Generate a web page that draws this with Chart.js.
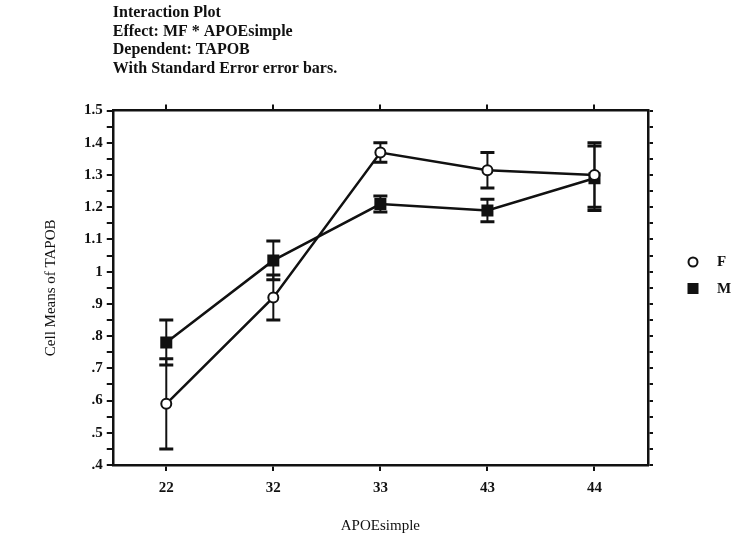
<!DOCTYPE html>
<html lang="en">
<head>
    <meta charset="UTF-8">
    <title>Interaction Plot</title>
    <script src="https://cdn.jsdelivr.net/npm/chart.js@4/dist/chart.umd.min.js"></script>
    <style>
        body {
            margin: 0;
            background-color: #ffffff;
        }
    </style>
</head>
<body>
    <canvas id="interactionChart" width="748" height="548"></canvas>

    <script>
        const categories = ['22', '32', '33', '43', '44'];
        const fMeans = [0.59, 0.92, 1.37, 1.315, 1.30];
        const fErrors = [0.14, 0.07, 0.03, 0.055, 0.10];
        const mMeans = [0.78, 1.035, 1.21, 1.19, 1.29];
        const mErrors = [0.07, 0.06, 0.025, 0.035, 0.10];
        const yMin = 0.4;
        const yMax = 1.5;
        const titleLines = [
            'Interaction Plot',
            'Effect: MF * APOEsimple',
            'Dependent: TAPOB',
            'With Standard Error error bars.'
        ];

        const serif = "'Liberation Serif', 'DejaVu Serif', serif";
        const ink = '#111111';

        // 1.5, 1.4 ... 1, .9 ... .4 ; blank label on the half steps
        function yLabel(value, index) {
            if (index % 2 === 1) return '';
            const v = Math.round(value * 10) / 10;
            if (v === 1) return '1';
            if (v < 1) return v.toFixed(1).replace(/^0/, '');
            return v.toFixed(1);
        }

        // standard error whiskers, drawn under the markers
        const errorBars = {
            id: 'errorBars',
            beforeDatasetsDraw(chart) {
                const ctx = chart.ctx;
                const x = chart.scales.x;
                const y = chart.scales.y;
                const sets = [[fMeans, fErrors], [mMeans, mErrors]];
                ctx.save();
                ctx.strokeStyle = ink;
                sets.forEach(([means, errs]) => {
                    means.forEach((m, i) => {
                        const px = x.getPixelForValue(i);
                        const top = y.getPixelForValue(m + errs[i]);
                        const bottom = y.getPixelForValue(m - errs[i]);
                        ctx.lineWidth = 2;
                        ctx.beginPath();
                        ctx.moveTo(px, top);
                        ctx.lineTo(px, bottom);
                        ctx.stroke();
                        ctx.lineWidth = 3;
                        ctx.beginPath();
                        ctx.moveTo(px - 7, top);
                        ctx.lineTo(px + 7, top);
                        ctx.moveTo(px - 7, bottom);
                        ctx.lineTo(px + 7, bottom);
                        ctx.stroke();
                    });
                });
                ctx.restore();
            }
        };

        const sideLegend = {
            id: 'sideLegend',
            afterDraw(chart) {
                const ctx = chart.ctx;
                const cx = 693;
                ctx.save();
                ctx.strokeStyle = ink;
                ctx.fillStyle = '#ffffff';
                ctx.lineWidth = 2;
                ctx.beginPath();
                ctx.arc(cx, 262, 4.5, 0, Math.PI * 2);
                ctx.fill();
                ctx.stroke();
                ctx.fillStyle = ink;
                ctx.fillRect(cx - 5.5, 283, 11, 11);
                ctx.font = 'bold 15px ' + serif;
                ctx.textBaseline = 'middle';
                ctx.fillText('F', cx + 24, 262);
                ctx.fillText('M', cx + 24, 289);
                ctx.restore();
            }
        };

        const ctx = document.getElementById('interactionChart').getContext('2d');
        const chart = new Chart(ctx, {
            type: 'line',
            data: {
                labels: categories,
                datasets: [{
                    label: 'F',
                    data: fMeans,
                    borderColor: ink,
                    borderWidth: 2.5,
                    pointStyle: 'circle',
                    pointRadius: 5,
                    pointBorderWidth: 2,
                    pointBackgroundColor: '#ffffff',
                    pointBorderColor: ink,
                    fill: false,
                    tension: 0
                }, {
                    label: 'M',
                    data: mMeans,
                    borderColor: ink,
                    borderWidth: 2.5,
                    pointStyle: 'rect',
                    pointRadius: 8.5,
                    pointBorderWidth: 0,
                    pointBackgroundColor: ink,
                    pointBorderColor: ink,
                    fill: false,
                    tension: 0
                }]
            },
            options: {
                responsive: false,
                animation: false,
                events: [],
                layout: {
                    padding: { left: 42, right: 95, top: 2, bottom: 13 }
                },
                plugins: {
                    legend: { display: false },
                    tooltip: { enabled: false },
                    title: {
                        display: true,
                        fullSize: false,
                        align: 'start',
                        text: titleLines,
                        color: ink,
                        font: { family: serif, size: 16, weight: 'bold', lineHeight: 1.15 },
                        padding: { top: 2, bottom: 27 }
                    }
                },
                scales: {
                    x: {
                        type: 'category',
                        offset: true,
                        position: 'bottom',
                        border: { display: true, color: ink, width: 2.5 },
                        grid: { drawOnChartArea: false, drawTicks: true, tickLength: 6, color: ink, lineWidth: 2 },
                        ticks: {
                            color: ink,
                            padding: 8,
                            font: { family: serif, size: 15, weight: 'bold' }
                        },
                        title: {
                            display: true,
                            text: 'APOEsimple',
                            color: ink,
                            font: { family: serif, size: 15 },
                            padding: { top: 12, bottom: 0 }
                        }
                    },
                    xTop: {
                        type: 'category',
                        offset: true,
                        position: 'top',
                        border: { display: true, color: ink, width: 2.5 },
                        grid: { drawOnChartArea: false, drawTicks: true, tickLength: 6, color: ink, lineWidth: 2 },
                        ticks: { display: false }
                    },
                    y: {
                        type: 'linear',
                        position: 'left',
                        min: yMin,
                        max: yMax,
                        border: { display: true, color: ink, width: 2.5 },
                        grid: { drawOnChartArea: false, drawTicks: true, tickLength: 6, color: ink, lineWidth: 2 },
                        ticks: {
                            stepSize: 0.05,
                            autoSkip: false,
                            color: ink,
                            padding: 4,
                            font: { family: serif, size: 15, weight: 'bold' },
                            callback: yLabel
                        },
                        title: {
                            display: true,
                            text: 'Cell Means of TAPOB',
                            color: ink,
                            font: { family: serif, size: 15 },
                            padding: { top: 0, bottom: 20 }
                        }
                    },
                    yRight: {
                        type: 'linear',
                        position: 'right',
                        min: yMin,
                        max: yMax,
                        border: { display: true, color: ink, width: 2.5 },
                        grid: { drawOnChartArea: false, drawTicks: true, tickLength: 5, color: ink, lineWidth: 2 },
                        ticks: { stepSize: 0.05, autoSkip: false, display: false }
                    }
                }
            },
            plugins: [errorBars, sideLegend]
        });
    </script>
</body>
</html>
